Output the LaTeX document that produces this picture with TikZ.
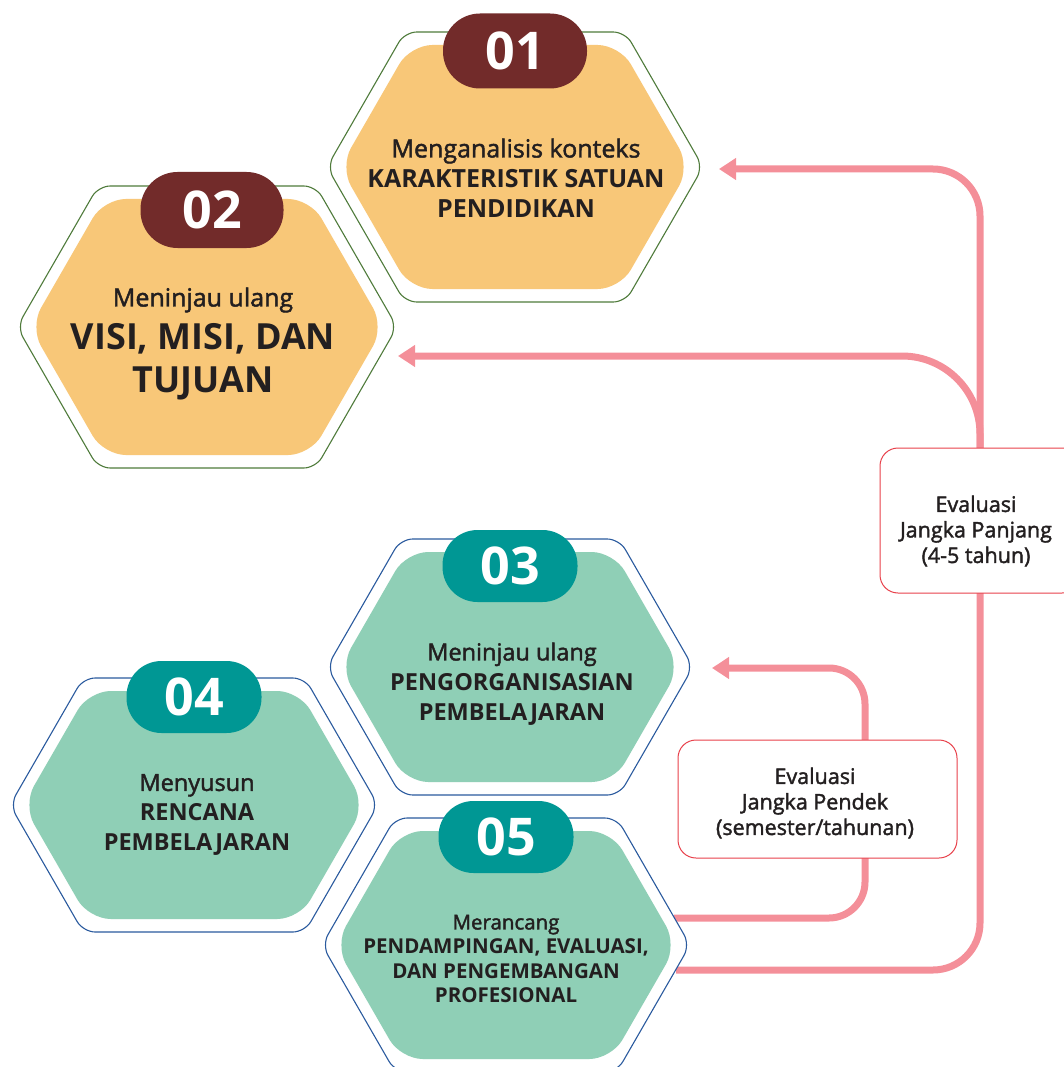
\documentclass[tikz,border=0pt]{standalone}
\usepackage{fontspec}
\setmainfont{Open Sans}
\newfontfamily\medfont{Open Sans}[FakeBold=1.8]
\usetikzlibrary{arrows.meta}
\definecolor{orangefill}{HTML}{F8C778}
\definecolor{maroon}{HTML}{722B2A}
\definecolor{greenfill}{HTML}{8FCFB6}
\definecolor{tealpill}{HTML}{009794}
\definecolor{olivline}{HTML}{4F7B3B}
\definecolor{blueline}{HTML}{2A5A9E}
\definecolor{pinkline}{HTML}{F48F99}
\definecolor{redbox}{HTML}{E8414B}
\definecolor{txt}{HTML}{231F20}
\newcommand\hexshape[4]{({#1},{#2-(#4)}) -- ({#1+(#3)-0.576*(#4)},{#2-(#4)}) -- ({#1+(#3)},{#2}) -- ({#1+(#3)-0.576*(#4)},{#2+(#4)}) -- ({#1-(#3)+0.576*(#4)},{#2+(#4)}) -- ({#1-(#3)},{#2}) -- ({#1-(#3)+0.576*(#4)},{#2-(#4)}) -- cycle}
\newcommand\hexa[6]{%
  \filldraw[draw=#6, line width=1.1pt, fill=white, rounded corners=12pt] \hexshape{#1}{#2}{#3}{#4};
  \fill[#5, rounded corners=22pt] \hexshape{#1}{#2}{#3-13}{#4-13};
}
\tikzset{
  pill/.style={rounded corners=35pt, minimum width=140pt, minimum height=72pt, inner sep=0pt, text=white, font=\fontsize{52}{52}\selectfont\bfseries},
  body/.style={align=center, text=txt, inner sep=0pt, font=\fontsize{23.5}{30}\selectfont},
  evalbox/.style={draw=redbox, line width=1pt, fill=white, rounded corners=18pt},
  evaltext/.style={align=center, text=txt, inner sep=0pt, font=\fontsize{21.5}{25.5}\selectfont\medfont},
  loop/.style={draw=pinkline, line width=7pt, -{Triangle[length=17pt,width=21pt]}}
}
\begin{document}
\begin{tikzpicture}[x=1pt,y=-1pt]
\useasboundingbox (0,0) rectangle (1063,1067);
% connector anchors
\coordinate (a1) at (719,169);
\coordinate (a2) at (398,356);
\coordinate (a3) at (712,668);
\coordinate (s5) at (676,970);
\coordinate (s5b) at (674,918);
\coordinate (trunk) at (980,460);
\coordinate (trunkb) at (865,800);
% connectors
\draw[loop, rounded corners=47pt] (s5) -| (trunk) |- (a1);
\draw[loop, rounded corners=78pt] (trunk) |- (a2);
\draw[loop, rounded corners=36pt] (s5b) -| (trunkb) |- (a3);
% hexagons
\hexa{515}{167}{188}{135}{orangefill}{olivline}
\hexa{207}{327}{190}{141}{orangefill}{olivline}
\hexa{510}{667}{183}{128}{greenfill}{blueline}
\hexa{194}{805}{184}{127}{greenfill}{blueline}
\hexa{506}{945}{184}{127}{greenfill}{blueline}
% pills
\node[pill, fill=maroon, minimum width=144pt, minimum height=75pt, rounded corners=37pt] (p1) at (515,51) {01};
\node[pill, fill=maroon, minimum width=143pt, minimum height=76pt, rounded corners=37pt] (p2) at (212,210) {02};
\node[pill, fill=tealpill, minimum width=135pt] (p3) at (510,566) {03};
\node[pill, fill=tealpill, minimum width=135pt] (p4) at (194,697) {04};
\node[pill, fill=tealpill, minimum width=135pt] (p5) at (506,837) {05};
% texts
\node[body, font=\fontsize{25}{30}\selectfont] (t1) at (516,178) {{\medfont Menganalisis konteks}\\\textbf{KARAKTERISTIK SATUAN}\\\textbf{PENDIDIKAN}};
\node[body, font=\fontsize{25}{30}\selectfont\medfont] (t2a) at (203,300) {Meninjau ulang};
\node[body, font=\fontsize{36}{43}\selectfont\bfseries] (t2b) at (203,362) {VISI, MISI, DAN\\TUJUAN};
\node[body] (t3) at (512,684) {{\medfont Meninjau ulang}\\\textbf{PENGORGANISASIAN}\\\textbf{PEMBELAJARAN}};
\node[body] (t4) at (197,815) {{\medfont Menyusun}\\\textbf{RENCANA}\\\textbf{PEMBELAJARAN}};
\node[body, font=\fontsize{20.5}{24.5}\selectfont] (t5) at (506,959) {{\medfont Merancang}\\\textbf{PENDAMPINGAN, EVALUASI,}\\\textbf{DAN PENGEMBANGAN}\\\textbf{PROFESIONAL}};
% evaluation boxes
\draw[evalbox] (678,740) rectangle (957,858);
\node[evaltext] (e1) at (815,803) {Evaluasi\\Jangka Pendek\\(semester/tahunan)};
\draw[evalbox] (880,448) rectangle (1080,593);
\node[evaltext] (e2) at (976,531) {Evaluasi\\Jangka Panjang\\(4-5 tahun)};
\end{tikzpicture}
\end{document}
